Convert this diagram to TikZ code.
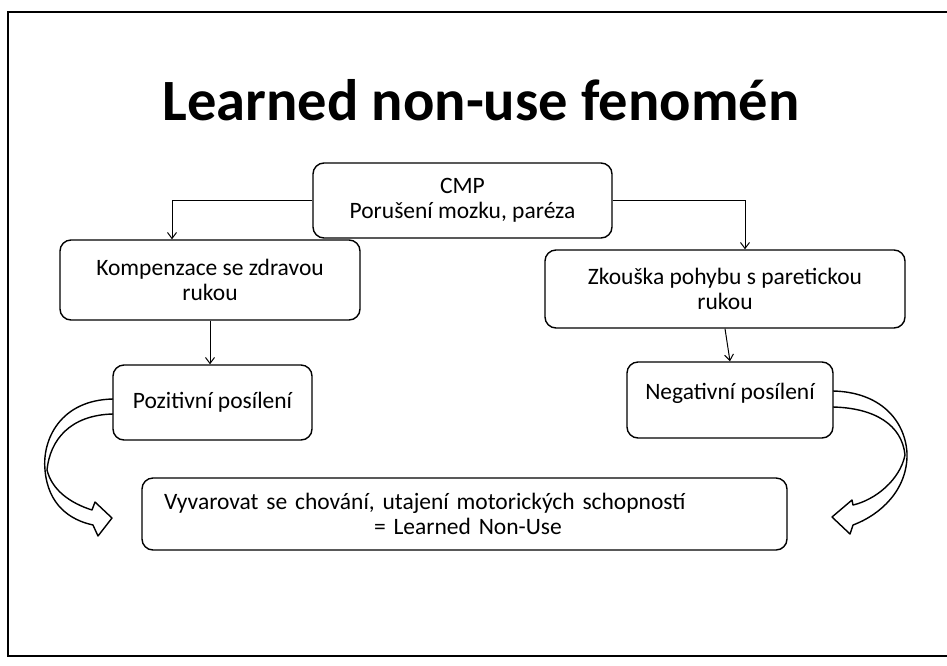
\documentclass[tikz,border=0pt]{standalone}
\usepackage{fontspec}
\setmainfont{Carlito}
\usetikzlibrary{arrows.meta,calc}
\begin{document}
\begin{tikzpicture}[x=1pt,y=-1pt,
  box/.style={draw=black,line width=1.4pt,rounded corners=11pt,align=center,inner sep=0pt,font=\fontsize{23.5}{25}\selectfont},
  conn/.style={draw=black,line width=1pt,-{Straight Barb[length=6pt,width=9pt]}},
  barrow/.style={draw=black,fill=white,line width=1.4pt,line join=round}]
\useasboundingbox (0,0) rectangle (947,665);
\draw[line width=2.5pt] (947,12) -- (8,12) -- (8,656) -- (947,656);
\node[font=\fontsize{58.5}{60}\selectfont\bfseries] (title) at (481,100) {Learned non-use fenomén};
% curved block arrows
\draw[barrow] (113,399) .. controls (60,400) and (42,440) .. (45,470) .. controls (48,505) and (70,520) .. (93,525) -- (98,536) -- (112,518) -- (95,502) -- (92,510) .. controls (70,503) and (52,490) .. (47,470) .. controls (50,440) and (70,415) .. (113,414);
\draw[barrow] (833,391) .. controls (880,392) and (905,420) .. (907,453) .. controls (908,490) and (880,515) .. (853,525) -- (850,534) -- (832,517) -- (852,500) -- (853,505) .. controls (875,500) and (900,480) .. (905,455) .. controls (902,425) and (875,408) .. (833,407);
% boxes
\node[box,minimum width=299pt,minimum height=75pt] (cmp) at (462.5,200.5) {CMP\\Porušení mozku, paréza};
\node[box,minimum width=300pt,minimum height=80pt] (komp) at (210,280) {Kompenzace se zdravou\\rukou};
\node[box,minimum width=360pt,minimum height=78pt] (zk) at (725,289) {Zkouška pohybu s paretickou\\rukou};
\node[box,minimum width=199pt,minimum height=75pt] (poz) at (212.5,402.5) {Pozitivní posílení};
\node[box,minimum width=206pt,minimum height=76pt,text depth=18pt] (neg) at (730,400) {Negativní posílení};
\node[box,text width=601pt,inner xsep=22pt,minimum height=72pt,align=left] (bot) at (464.5,514) {Vyvarovat se chování, utajení motorických schopností\\\hspace*{210pt}= Learned Non-Use};
% connectors
\draw[conn] (cmp.west) -| ([xshift=-38pt]komp.north);
\draw[conn] (cmp.east) -| ([xshift=20pt]zk.north);
\draw[conn] (komp.south) -- (komp.south |- poz.north);
\draw[conn] (zk.south) -- (neg.north);
\end{tikzpicture}
\end{document}
